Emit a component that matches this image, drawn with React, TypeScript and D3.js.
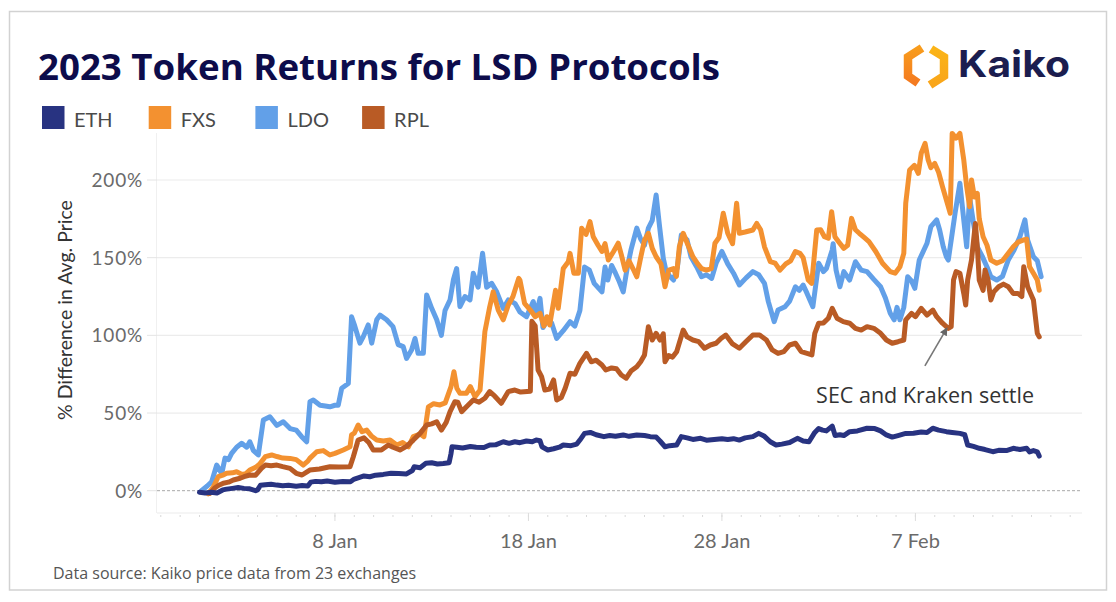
import React from "react";
import * as d3 from "d3";

type P = [number, number];

const seriesNames = ["ETH", "FXS", "LDO", "RPL"];
const seriesColors = ["#283381", "#f39130", "#62a0e8", "#b95b25"];

// [day offset from 1 Jan 2023, % difference]
const ethData: P[] = [
  [0,-1],[0.3,-1.5],[0.6,-1],[0.9,-1.5],[1.2,0.5],[1.4,1],[1.7,1.5],[2.0,2],[2.3,1.5],[2.6,1.2],[2.9,0],[3.0,0.5],[3.15,3.5],[3.4,3.8],[3.7,4.2],[4.0,3.6],[4.3,3.2],[4.6,3.5],[5.0,2.9],[5.3,3.3],[5.6,3.0],[5.75,5.5],[6.0,6.0],[6.3,5.7],[6.6,6.2],[7.0,5.5],[7.4,5.9],[7.8,5.8],[8.0,7.5],[8.2,8.3],[8.5,9.5],[8.8,9.0],[9.1,10],[9.5,10.5],[9.9,11.2],[10.3,11],[10.7,10.8],[11.0,13],[11.1,15.4],[11.4,14.8],[11.7,17.6],[12.0,18],[12.3,17.2],[12.6,17.5],[12.9,18],[13.0,24],[13.05,28.3],[13.3,28],[13.6,27.5],[14.0,28.5],[14.3,28],[14.7,27.8],[15.0,29.4],[15.3,29.5],[15.7,31.5],[16.0,30.5],[16.3,31.5],[16.56,30.9],[16.9,32],[17.2,31.5],[17.4,32.6],[17.6,32.2],[17.7,28.3],[18.0,26.2],[18.3,27],[18.6,28],[18.8,29.4],[19.2,29],[19.5,30],[19.66,32.6],[19.9,36.9],[20.2,37.5],[20.5,36],[20.9,34.8],[21.2,35.5],[21.5,35],[21.9,35.9],[22.2,35],[22.6,35.9],[23.0,35.5],[23.3,34.8],[23.6,34.5],[23.8,32],[24.06,28.3],[24.3,29],[24.66,29.4],[24.9,34.8],[25.2,34],[25.5,33],[25.9,33.7],[26.2,32.5],[26.6,33],[27.0,33.5],[27.3,33],[27.6,33.5],[27.9,32.6],[28.2,34],[28.6,34.8],[28.9,36.9],[29.2,35],[29.5,31.5],[29.8,29.4],[30.1,30],[30.5,31],[30.9,33.7],[31.2,32],[31.5,31.5],[31.8,37.5],[32.0,40],[32.2,39],[32.4,38.5],[32.7,41.6],[32.85,35.5],[33.1,36],[33.3,35.5],[33.6,38],[34.0,38.5],[34.5,40.2],[34.9,40],[35.2,38.5],[35.5,35.9],[35.8,34.5],[36.1,35.5],[36.5,36.9],[36.9,37],[37.3,37.8],[37.6,37.5],[37.9,40.2],[38.2,39],[38.6,38],[38.9,37.5],[39.3,36.9],[39.55,36],[39.7,29.4],[40.0,28.5],[40.3,27.3],[40.6,26.5],[41.0,25.1],[41.3,26],[41.7,25.8],[42.06,27.3],[42.4,26.5],[42.75,27.3],[42.9,25],[43.1,25.8],[43.3,25],[43.4,22.3]
];

const fxsData: P[] = [
  [0.45,-2],[0.7,2],[0.97,9],[1.2,10],[1.4,11.2],[1.7,11.5],[1.92,12.2],[2.2,10.5],[2.4,11],[2.6,13.3],[2.9,15],[3.1,17],[3.4,21.9],[3.73,23],[4.0,22],[4.3,21],[4.68,20.8],[5.0,20],[5.36,16.5],[5.6,19],[5.7,20.8],[6.06,25.1],[6.4,25.8],[6.74,23],[7.0,24],[7.43,26.2],[7.78,28.3],[7.86,35.9],[8.0,37],[8.2,42.3],[8.4,38],[8.64,39],[8.9,35],[9.16,32.6],[9.5,32],[9.85,32.6],[10.2,29.4],[10.5,31],[10.8,28.3],[11.05,34.8],[11.4,36.5],[11.6,34.8],[11.83,54],[12.1,56],[12.43,55.2],[12.7,56.5],[13.0,67],[13.15,76.6],[13.3,66],[13.46,62.7],[13.8,62.8],[14.0,67],[14.24,60.5],[14.5,64.8],[14.75,102.4],[15.0,118.4],[15.18,128],[15.44,116.3],[15.7,110],[15.96,119.5],[16.2,125],[16.5,136.7],[16.56,135.6],[16.8,120.6],[17.1,116.3],[17.35,112],[17.6,114.2],[17.8,106],[17.95,112],[18.1,106.7],[18.4,129],[18.54,117.4],[18.8,143],[19.06,147.4],[19.15,152.8],[19.35,140],[19.58,140],[19.75,169],[19.98,165],[20.18,173.2],[20.35,163.5],[20.6,158],[20.8,154],[20.96,159],[21.13,148.5],[21.4,154],[21.64,159.3],[21.8,152],[22.0,142],[22.2,148],[22.4,143],[22.6,137.7],[22.8,150],[23.0,161.4],[23.2,165.7],[23.4,156],[23.6,150.6],[23.85,146],[24.06,131.3],[24.25,142],[24.5,143],[24.65,138],[24.8,157],[25.0,165.7],[25.25,158],[25.5,150.6],[25.75,146],[25.95,143],[26.2,142],[26.45,143],[26.64,159.3],[26.85,163],[27.07,178.6],[27.3,165.7],[27.55,159],[27.76,185],[27.9,165.7],[28.2,166.5],[28.6,167.8],[28.8,172],[29.0,168],[29.2,157],[29.5,147.4],[29.75,146.5],[30.0,142],[30.3,146],[30.55,148],[30.8,154],[31.03,152.8],[31.2,150],[31.46,135.6],[31.64,133.5],[31.9,167.8],[32.1,168],[32.3,163.5],[32.5,162.5],[32.67,179.6],[32.84,163.5],[33.05,160],[33.3,156],[33.5,158],[33.7,175.3],[33.9,168],[34.1,165.7],[34.35,163],[34.6,160.3],[34.95,154],[35.3,146.4],[35.7,141],[35.95,140],[36.2,144.2],[36.4,152.8],[36.5,185],[36.7,206.4],[36.95,209.4],[37.15,204.3],[37.3,217.2],[37.5,223.6],[37.66,212.9],[37.8,208],[38.0,210.7],[38.2,205],[38.4,195.7],[38.65,185],[38.8,178.6],[38.9,230],[39.1,227],[39.3,230],[39.5,212.9],[39.65,195.7],[39.8,182.8],[39.9,200],[40.05,189],[40.2,191.4],[40.3,175],[40.5,163.5],[40.7,158],[40.9,148.5],[41.2,146.4],[41.5,148],[41.8,152.8],[42.06,157],[42.3,160],[42.6,161.4],[42.75,162],[42.9,144.2],[43.1,140],[43.3,135.6],[43.4,129]
];

const ldoData: P[] = [
  [0.1,0],[0.4,3],[0.63,5.8],[0.89,16.5],[1.15,11],[1.32,21],[1.5,20],[1.66,24],[1.92,28],[2.18,30.5],[2.44,28],[2.6,31.5],[2.78,26],[3.04,23],[3.3,45.5],[3.64,47.6],[4.0,42],[4.33,44.4],[4.68,40],[5.0,39],[5.28,34.8],[5.54,31.5],[5.71,57.3],[5.88,58.4],[6.23,55],[6.5,54.5],[6.74,54],[7.0,55],[7.17,55],[7.35,66],[7.69,69],[7.86,112],[8.0,107],[8.29,95],[8.46,99],[8.72,106.7],[8.9,95],[9.16,110],[9.33,113],[9.67,110],[10.0,105.6],[10.27,94],[10.53,92.7],[10.7,85.2],[10.96,90.6],[11.14,98],[11.3,88.4],[11.57,88.4],[11.74,126],[12.0,117.4],[12.26,110],[12.5,100],[12.69,116],[12.95,122.8],[13.12,135.6],[13.29,143],[13.46,118.5],[13.72,125],[13.98,122.8],[14.15,140],[14.4,131],[14.63,152.8],[14.84,131],[15.1,133.5],[15.36,128],[15.7,117.4],[15.96,122.8],[16.3,120.6],[16.56,115],[16.9,112],[17.25,121.7],[17.4,113],[17.6,123.8],[17.75,105],[18.0,110],[18.2,108],[18.46,98],[18.8,103],[19.15,108.8],[19.4,106],[19.66,116],[19.9,144],[20.15,142],[20.4,133.5],[20.8,128],[20.96,144],[21.1,135.6],[21.3,145],[21.5,140],[21.7,134.5],[21.9,128],[22.1,143],[22.3,155],[22.6,169],[22.8,162],[23.0,158],[23.2,169],[23.4,174],[23.6,190.3],[23.76,172],[23.97,149.6],[24.1,142],[24.3,138],[24.5,135.6],[24.7,144],[24.9,164.6],[25.2,161.4],[25.4,150.6],[25.7,144],[25.95,137.7],[26.2,139],[26.47,136.7],[26.7,146.4],[27.0,154],[27.3,146],[27.6,140],[27.9,132.4],[28.25,137],[28.6,141],[28.9,139],[29.2,133.5],[29.4,121.7],[29.7,108.8],[29.9,116.3],[30.26,118.4],[30.5,122],[30.8,131.3],[31.0,129],[31.2,132.4],[31.4,127],[31.7,118.4],[32.0,146.4],[32.25,141],[32.4,143],[32.7,155],[32.75,159],[32.9,142],[33.1,131.3],[33.3,141],[33.6,135.6],[33.9,147.4],[34.2,142],[34.5,141],[34.85,136],[35.2,131.3],[35.45,124],[35.7,114.2],[35.9,110],[36.05,118],[36.2,110],[36.4,118],[36.6,137.7],[36.8,135],[36.97,130.3],[37.2,148.5],[37.6,159.3],[37.8,170],[38.1,174.3],[38.25,168],[38.44,157],[38.6,150.6],[38.7,148.5],[38.9,165.7],[39.05,178.6],[39.3,197.9],[39.5,174.3],[39.65,157],[39.8,189],[39.98,174],[40.2,157],[40.45,151],[40.7,144],[40.9,137.7],[41.2,135.6],[41.5,138],[41.8,148.5],[42.1,155],[42.4,163.5],[42.66,174.3],[42.8,161.4],[43.1,150.6],[43.3,148],[43.5,137.7]
];

const rplData: P[] = [
  [0.54,-1.7],[0.8,1.9],[1.0,3.5],[1.23,4.8],[1.5,5.5],[1.75,6.9],[2.1,8],[2.3,9],[2.6,10.1],[2.9,10],[3.2,14.4],[3.4,16.5],[3.7,16],[4.0,16.5],[4.3,15.5],[4.68,14.4],[5.0,11.2],[5.3,10.1],[5.7,13.3],[6.2,14],[6.74,15.4],[7.2,15.2],[7.78,15.4],[7.95,21.9],[8.2,32.6],[8.5,34],[8.75,31],[8.98,26.2],[9.4,26.2],[9.76,29.4],[10.0,28],[10.36,26.2],[10.7,28.5],[11.05,32.6],[11.4,36.9],[11.74,42.3],[12.0,43],[12.26,44.4],[12.5,39],[12.75,44],[12.95,50.9],[13.2,57.3],[13.35,57],[13.55,50.9],[13.8,54],[14.15,58.4],[14.45,57],[14.75,59.5],[15.0,63.8],[15.25,61],[15.6,56.3],[15.96,63.8],[16.3,64.8],[16.6,63.5],[17.1,64],[17.18,109],[17.35,106],[17.5,77.7],[17.68,73.4],[17.85,64.8],[18.1,65.5],[18.3,71.3],[18.46,58.4],[18.7,60],[18.9,66],[19.15,75.6],[19.4,75],[19.66,82],[20.0,88.4],[20.25,83],[20.5,84],[20.8,80.9],[21.0,77.7],[21.3,79],[21.55,78.5],[21.8,74.5],[22.05,72.4],[22.3,77],[22.6,79.8],[22.8,83],[23.0,87.4],[23.2,105.6],[23.4,97],[23.6,101.3],[23.8,97],[23.97,101],[24.06,83],[24.25,87],[24.45,86],[24.66,89.5],[25.0,103.4],[25.2,99],[25.5,97],[25.8,96],[26.1,91.7],[26.4,93.8],[26.7,94.9],[26.95,98],[27.2,100.2],[27.55,94.5],[27.9,91.7],[28.25,96],[28.6,100.2],[28.95,100.2],[29.3,97],[29.6,90.6],[29.9,88.4],[30.2,89.5],[30.5,93.8],[30.8,94.9],[31.1,89.5],[31.4,88.4],[31.65,87.4],[31.8,101.3],[32.0,107.8],[32.25,108],[32.5,111],[32.7,117.4],[32.95,111],[33.27,108.8],[33.6,107.8],[33.9,104.5],[34.2,103.4],[34.5,105.6],[34.85,104.5],[35.2,101.3],[35.5,97],[35.8,94.9],[36.1,95.9],[36.4,97],[36.5,110],[36.8,114.2],[37.0,112],[37.3,117.4],[37.6,113],[37.9,116.3],[38.1,112],[38.4,107.8],[38.7,104.5],[38.85,105.6],[38.97,135.6],[39.1,141],[39.3,140],[39.5,127],[39.6,119.5],[39.7,135.6],[39.9,148.5],[40.1,172],[40.2,157],[40.3,135.6],[40.5,129],[40.6,142],[40.75,136],[40.9,122.8],[41.05,128],[41.3,131.3],[41.55,133],[41.8,131.3],[42.05,127],[42.3,127],[42.5,125],[42.6,144.2],[42.8,131.3],[43.1,122.8],[43.3,101.3],[43.4,99]
];

const yTicks = [0, 50, 100, 150, 200];
const xTickDays = [7, 17, 27, 37];
const annotationText = "SEC and Kraken settle";
const annotationArrow: P[] = [[37.49, 80.3], [38.63, 104.7]];
const annotationLabel: P = [37.5, 56.5];

const DAY0 = Date.UTC(2023, 0, 1);
const toDate = (d: number) => new Date(DAY0 + d * 864e5);

export default function App() {
  const x = d3.scaleUtc().domain([toDate(-2.196), toDate(45.61)]).range([157, 1082]);
  const y = d3.scaleLinear().domain([0, 200]).range([490.7, 180]);
  const axisY = y(-14.35);
  const line = d3
    .line<P>()
    .x((p) => x(toDate(p[0])))
    .y((p) => y(p[1]));
  const draw = [
    { data: ldoData, c: seriesColors[2] },
    { data: fxsData, c: seriesColors[1] },
    { data: rplData, c: seriesColors[3] },
    { data: ethData, c: seriesColors[0] },
  ];
  const minor = d3.utcDay.range(x.domain()[0], x.domain()[1]);
  const fmt = d3.utcFormat("%-d %b");
  const font = "Lato, 'Open Sans', sans-serif";
  const [ax0, ay0] = [x(toDate(annotationArrow[0][0])), y(annotationArrow[0][1])];
  const [ax1, ay1] = [x(toDate(annotationArrow[1][0])), y(annotationArrow[1][1])];

  return (
    <svg
      width={1116}
      height={602}
      style={{ position: "fixed", left: 0, top: 0, background: "#fff" }}
    >
      <defs>
        <marker id="arr" viewBox="0 0 10 10" refX="9" refY="5" markerWidth="5" markerHeight="5" orient="auto">
          <path d="M0,0 L10,5 L0,10 z" fill="#666" />
        </marker>
        <linearGradient id="lg1" x1="0" y1="1" x2="0" y2="0">
          <stop offset="0" stopColor="#f47a20" />
          <stop offset="1" stopColor="#f89c1c" />
        </linearGradient>
        <linearGradient id="lg2" x1="0" y1="0" x2="0" y2="1">
          <stop offset="0" stopColor="#fbb417" />
          <stop offset="1" stopColor="#f9a51a" />
        </linearGradient>
      </defs>
      <rect x={9.5} y={11.5} width={1097} height={578.5} fill="#fff" stroke="#d2d2d2" strokeWidth={1.5} />

      {/* title */}
      <text x={38} y={80} fontFamily="'Open Sans', sans-serif" fontWeight={700} fontSize={35.5} fill="#0d0c4b" textLength={682} lengthAdjust="spacingAndGlyphs">
        2023 Token Returns for LSD Protocols
      </text>

      {/* logo */}
      <g fill="none" strokeWidth={8.5} strokeLinejoin="miter">
        <path d="M922,48 L908,57 L908,76 L918,83" stroke="url(#lg1)" />
        <path d="M931,49 L944,57 L944,76 L930,85" stroke="url(#lg2)" />
      </g>
      <text x={958} y={77} fontFamily="Inter, 'Open Sans', sans-serif" fontWeight={700} fontSize={37} fill="#1b1d4f" textLength={112} lengthAdjust="spacingAndGlyphs">
        Kaiko
      </text>

      {/* legend */}
      {seriesNames.map((n, i) => (
        <g key={n} transform={`translate(${42 + i * 106.7},106)`}>
          <rect width={22.5} height={23} fill={seriesColors[i]} />
          <text x={32} y={20.5} fontFamily={font} fontSize={20} fill="#4a4a4a">
            {n}
          </text>
        </g>
      ))}

      {/* grid */}
      <line x1={156.5} x2={156.5} y1={133} y2={axisY} stroke="#f0f0f0" />
      {yTicks.map((t) => (
        <g key={t}>
          {t !== 0 && <line x1={157} x2={1082} y1={y(t)} y2={y(t)} stroke="#ececec" strokeWidth={1.2} />}
          <line x1={147} x2={157} y1={y(t)} y2={y(t)} stroke="#e4e4e4" />
          <text x={143} y={y(t)} dy="0.36em" textAnchor="end" fontFamily={font} fontSize={19} fill="#6a6a6a" letterSpacing={0.8}>
            {t + "%"}
          </text>
        </g>
      ))}
      <line x1={157} x2={1082} y1={y(0)} y2={y(0)} stroke="#a8a8a8" strokeDasharray="3,2" />
      <line x1={157} x2={1082} y1={axisY} y2={axisY} stroke="#ececec" strokeWidth={1.2} />
      {minor.map((d, i) => (
        <line key={i} x1={x(d)} x2={x(d)} y1={axisY + 2} y2={axisY + 4} stroke="#d8d8d8" />
      ))}
      {xTickDays.map((d) => (
        <g key={d}>
          <line x1={x(toDate(d))} x2={x(toDate(d))} y1={axisY} y2={axisY + 8} stroke="#dcdcdc" />
          <text x={x(toDate(d))} y={548} textAnchor="middle" fontFamily={font} fontSize={20} fill="#6a6a6a">
            {fmt(toDate(d))}
          </text>
        </g>
      ))}

      <text transform="translate(72,310) rotate(-90)" textAnchor="middle" fontFamily={font} fontSize={19.5} fill="#333">
        % Difference in Avg. Price
      </text>

      {/* series */}
      {draw.map((s, i) => (
        <path key={i} d={line(s.data) || ""} fill="none" stroke={s.c} strokeWidth={5} strokeLinejoin="round" strokeLinecap="round" />
      ))}

      {/* annotation */}
      <line x1={ax0} y1={ay0} x2={ax1} y2={ay1} stroke="#777" strokeWidth={1.6} markerEnd="url(#arr)" />
      <text x={x(toDate(annotationLabel[0]))} y={y(annotationLabel[1])} textAnchor="middle" fontFamily="'Open Sans', sans-serif" fontSize={21.5} fontWeight={500} fill="#333">
        {annotationText}
      </text>

      <text x={53} y={579} fontFamily="'Open Sans', sans-serif" fontSize={16} fill="#555">
        Data source: Kaiko price data from 23 exchanges
      </text>
    </svg>
  );
}
